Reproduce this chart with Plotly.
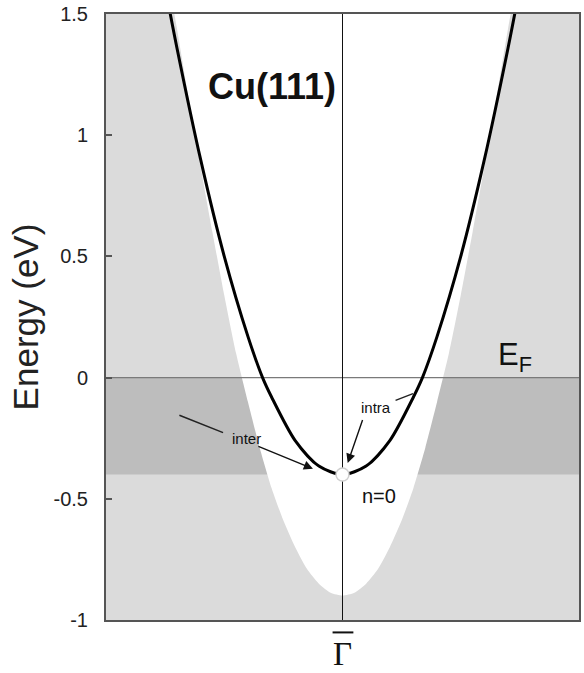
import plotly.graph_objects as go

# ---- data ----
# surface state (n=0) dispersion, right half (k in arb. units, E in eV); mirrored for left half
ss_k = [0.0, 0.1, 0.2, 0.3, 0.338, 0.4, 0.5, 0.6, 0.7, 0.74]
ss_E = [-0.40, -0.365, -0.26, -0.08, 0.0, 0.17, 0.50, 0.90, 1.36, 1.56]

# edge of the projected bulk band gap (white region), right half
gap_k = [0.0, 0.05, 0.10, 0.15, 0.20, 0.25, 0.30, 0.35, 0.40, 0.45, 0.50, 0.55, 0.60, 0.65, 0.70, 0.72, 0.74]
gap_E = [-0.90, -0.888, -0.85, -0.79, -0.70, -0.59, -0.455, -0.29, -0.10, 0.10, 0.34, 0.60, 0.87, 1.15, 1.44, 1.55, 1.67]

fermi_level = 0.0
ss_bottom = -0.40
y_ticks = [-1, -0.5, 0, 0.5, 1, 1.5]
y_tick_labels = ["-1", "-0.5", "0", "0.5", "1", "1.5"]
x_ticks = [0]
x_tick_labels = ["Γ"]

LIGHT = "#dbdbdb"
DARK = "#bdbdbd"

fig = go.Figure()

# white gap region
gx = [-k for k in reversed(gap_k)] + gap_k[1:]
gy = list(reversed(gap_E)) + gap_E[1:]
fig.add_trace(go.Scatter(x=gx, y=gy, mode="lines", fill="toself", fillcolor="white",
                         line=dict(color="white", width=0, shape="spline", smoothing=0.6),
                         hoverinfo="skip", showlegend=False))

# Fermi level line
fig.add_trace(go.Scatter(x=[-1, 1], y=[fermi_level, fermi_level], mode="lines",
                         line=dict(color="#7a7a7a", width=1.2), hoverinfo="skip", showlegend=False))
# Gamma vertical line
fig.add_trace(go.Scatter(x=[0, 0], y=[-1, 1.5], mode="lines",
                         line=dict(color="#111111", width=1), hoverinfo="skip", showlegend=False))

# surface state
sx = [-k for k in reversed(ss_k)] + ss_k[1:]
sy = list(reversed(ss_E)) + ss_E[1:]
fig.add_trace(go.Scatter(x=sx, y=sy, mode="lines",
                         line=dict(color="black", width=3, shape="spline", smoothing=0.8),
                         showlegend=False))

# band bottom marker
fig.add_trace(go.Scatter(x=[0], y=[ss_bottom], mode="markers",
                         marker=dict(size=13, color="white", line=dict(color="#cfcfcf", width=1.5)),
                         showlegend=False))

# dark band between band bottom and Fermi level
fig.add_shape(type="rect", xref="x", yref="y", x0=-1, x1=1, y0=ss_bottom, y1=fermi_level,
              fillcolor=DARK, line=dict(width=0), layer="below")
# bar over the Gamma label
fig.add_shape(type="line", xref="x", yref="paper", x0=-0.042, x1=0.046, y0=-0.0205, y1=-0.0205,
              line=dict(color="#111111", width=2))

ann_font = dict(family="Liberation Sans, Arial, sans-serif", color="#111111")
fig.add_annotation(x=-0.30, y=1.20, text="<b>Cu(111)</b>", showarrow=False,
                   font=dict(size=36, **ann_font))
fig.add_annotation(x=0.73, y=0.085, text="E<sub>F</sub>", showarrow=False,
                   font=dict(size=31, **ann_font))
fig.add_annotation(x=-0.408, y=-0.252, text="inter", showarrow=False,
                   font=dict(size=15, **ann_font))
fig.add_annotation(x=0.142, y=-0.122, text="intra", showarrow=False,
                   font=dict(size=15, **ann_font))
fig.add_annotation(x=0.155, y=-0.49, text="n=0", showarrow=False,
                   font=dict(size=20, **ann_font))

# leader lines
fig.add_annotation(x=-0.505, y=-0.227, ax=-0.696, ay=-0.153, xref="x", yref="y",
                   axref="x", ayref="y", text="", showarrow=True, arrowhead=0,
                   arrowwidth=1.6, arrowcolor="#222222")
fig.add_annotation(x=0.298, y=-0.066, ax=0.218, ay=-0.096, xref="x", yref="y",
                   axref="x", ayref="y", text="", showarrow=True, arrowhead=0,
                   arrowwidth=1.4, arrowcolor="#222222")
# arrows
fig.add_annotation(x=-0.125, y=-0.376, ax=-0.362, ay=-0.281, xref="x", yref="y",
                   axref="x", ayref="y", text="", showarrow=True, arrowhead=2,
                   arrowsize=1.3, arrowwidth=1.4, arrowcolor="#111111")
fig.add_annotation(x=0.022, y=-0.352, ax=0.087, ay=-0.169, xref="x", yref="y",
                   axref="x", ayref="y", text="", showarrow=True, arrowhead=2,
                   arrowsize=1.3, arrowwidth=1.4, arrowcolor="#111111")

axis_line = dict(showline=True, linecolor="#555555", linewidth=2, mirror=True,
                 showgrid=False, zeroline=False, automargin=False)
fig.update_xaxes(range=[-1, 1], tickvals=x_ticks, ticktext=x_tick_labels, ticks="",
                 ticklabelstandoff=3,
                 tickfont=dict(family="Liberation Serif, Times New Roman, serif", size=33, color="#111111"),
                 **axis_line)
fig.update_yaxes(range=[-1, 1.5], tickvals=y_ticks, ticktext=y_tick_labels,
                 ticks="inside", ticklen=6, tickwidth=1.5, tickcolor="#555555",
                 ticklabelstandoff=12,
                 tickfont=dict(family="Liberation Sans, Arial, sans-serif", size=20, color="#222222"),
                 title=dict(text="Energy (eV)", standoff=4,
                            font=dict(family="Liberation Sans, Arial, sans-serif", size=35, color="#222222")),
                 **axis_line)

fig.update_layout(width=584, height=673, margin=dict(l=106, r=5, t=14, b=53),
                  plot_bgcolor=LIGHT, paper_bgcolor="white", showlegend=False)

fig.write_html("out.html")
